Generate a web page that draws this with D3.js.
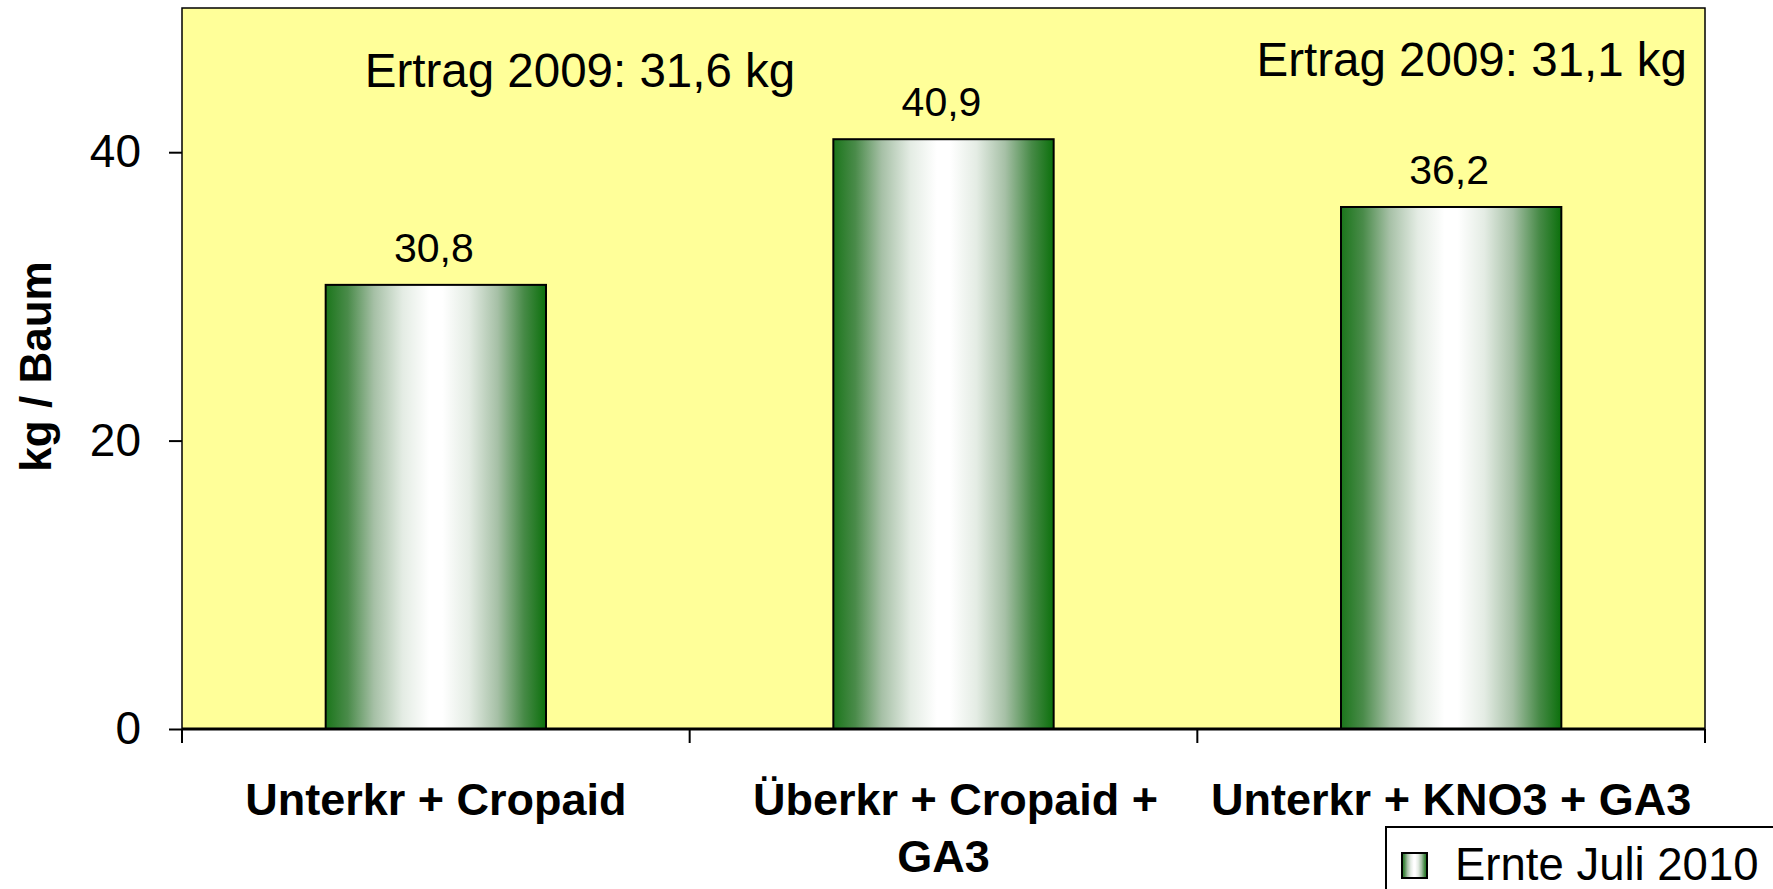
<!DOCTYPE html>
<html>
<head>
<meta charset="utf-8">
<script src="https://cdn.jsdelivr.net/npm/d3@7"></script>
<style>
  html, body { margin: 0; padding: 0; background: #fff; overflow: hidden; }
  text { font-family: Arial, "Liberation Sans", sans-serif; fill: #000; }
</style>
</head>
<body>
<div id="chart"></div>
<script>
var categories = ["Unterkr + Cropaid", "Überkr + Cropaid + GA3", "Unterkr + KNO3 + GA3"];
var values = [30.8, 40.9, 36.2];
var yTicks = [0, 20, 40];
var seriesName = "Ernte Juli 2010";
var yTitle = "kg / Baum";
var notes = ["Ertrag 2009: 31,6 kg", "Ertrag 2009: 31,1 kg"];

var WIDTH = 1773, HEIGHT = 889;
var margin = {top: 8, right: 68, bottom: 160, left: 182};
var w = WIDTH - margin.left - margin.right;
var h = HEIGHT - margin.top - margin.bottom;

var de = d3.formatLocale({decimal: ",", thousands: ".", grouping: [3], currency: ["", " €"]});
var fmt = de.format(".1f");

var svg = d3.select("#chart").append("svg")
  .attr("width", WIDTH)
  .attr("height", HEIGHT);

var defs = svg.append("defs");
var grad = defs.append("linearGradient")
  .attr("id", "barGrad")
  .attr("x1", "0%").attr("x2", "100%").attr("y1", "0%").attr("y2", "0%");
[[0, "#1b761b"], [0.1, "#4a8b4a"], [0.22, "#a6c0a6"], [0.35, "#e4ece4"], [0.47, "#ffffff"],
 [0.53, "#ffffff"], [0.65, "#e4ece4"], [0.78, "#a6c0a6"], [0.9, "#478a47"], [1, "#0c700c"]]
  .forEach(function(s) {
    grad.append("stop").attr("offset", s[0]).attr("stop-color", s[1]);
  });

var g = svg.append("g")
  .attr("transform", "translate(" + margin.left + "," + margin.top + ")");

var x = d3.scaleBand().domain(categories).range([0, w]).padding(0);
var y = d3.scaleLinear().domain([0, 50]).range([h, 0]);

// plot background
g.append("rect")
  .attr("x", 0).attr("y", 0)
  .attr("width", w).attr("height", h)
  .style("fill", "#ffff99")
  .style("stroke", "#000")
  .style("stroke-width", 1.5);

// bars
var barFrac = 0.434;
g.selectAll(".bar")
  .data(values)
  .enter().append("rect")
  .attr("class", "bar")
  .attr("x", function(d, i) { return x(categories[i]) + x.bandwidth() * (1 - barFrac) / 2; })
  .attr("width", x.bandwidth() * barFrac)
  .attr("y", function(d) { return y(d); })
  .attr("height", function(d) { return h - y(d); })
  .style("fill", "url(#barGrad)")
  .style("stroke", "#000")
  .style("stroke-width", 2);

// value labels
g.selectAll(".val")
  .data(values)
  .enter().append("text")
  .attr("class", "val")
  .attr("x", function(d, i) { return x(categories[i]) + x.bandwidth() / 2 - 2; })
  .attr("y", function(d) { return y(d) - 23; })
  .attr("text-anchor", "middle")
  .style("font-size", "41px")
  .text(function(d) { return fmt(d); });

// y axis
var yAxis = g.append("g")
  .call(d3.axisLeft(y).tickValues(yTicks).tickSize(13).tickPadding(28).tickFormat(d3.format("d")))
  .call(function(a) { a.select(".domain").remove(); });
yAxis.selectAll("line").style("stroke", "#000").style("stroke-width", 2);
yAxis.selectAll("text").style("font-size", "46px").style("font-family", "Arial, 'Liberation Sans', sans-serif");

// x axis
var bounds = categories.map(function(c) { return x(c); }).concat([w]);
var xAxis = g.append("g").attr("transform", "translate(0," + h + ")");
xAxis.append("line")
  .attr("x1", 0).attr("x2", w)
  .style("stroke", "#000").style("stroke-width", 3);
xAxis.selectAll(".xt")
  .data(bounds)
  .enter().append("line")
  .attr("x1", function(d) { return d; }).attr("x2", function(d) { return d; })
  .attr("y1", 0).attr("y2", 14)
  .style("stroke", "#000").style("stroke-width", 2);

var labels = xAxis.selectAll(".xl")
  .data(categories)
  .enter().append("text")
  .attr("class", "xl")
  .attr("text-anchor", "middle")
  .attr("y", 86)
  .style("font-size", "45px")
  .style("font-weight", "bold");

// wrap category labels like the spreadsheet does
labels.each(function(d) {
  var t = d3.select(this);
  var cx = x(d) + x.bandwidth() / 2;
  var words = d.split(" ");
  var line = [];
  var tspan = t.append("tspan").attr("x", cx).attr("dy", 0);
  words.forEach(function(wd) {
    line.push(wd);
    tspan.text(line.join(" "));
    if (tspan.node().getComputedTextLength() > x.bandwidth() - 20 && line.length > 1) {
      line.pop();
      tspan.text(line.join(" ")).attr("x", cx + 12);
      line = [wd];
      tspan = t.append("tspan").attr("x", cx).attr("dy", 57).text(wd);
    }
  });
});

// y title
svg.append("text")
  .attr("transform", "translate(51," + (margin.top + h / 2 - 2) + ") rotate(-90)")
  .attr("text-anchor", "middle")
  .style("font-size", "44px")
  .style("font-weight", "bold")
  .text(yTitle);

// notes
g.append("text")
  .attr("x", 398).attr("y", 79)
  .attr("text-anchor", "middle")
  .style("font-size", "47.5px")
  .text(notes[0]);
g.append("text")
  .attr("x", w - 18).attr("y", 68)
  .attr("text-anchor", "end")
  .style("font-size", "47.5px")
  .text(notes[1]);

// legend
var legend = svg.append("g").attr("transform", "translate(1386,827)");
legend.append("rect")
  .attr("x", 0).attr("y", 0)
  .attr("width", 420).attr("height", 100)
  .style("fill", "#fff")
  .style("stroke", "#000")
  .style("stroke-width", 2);
legend.append("rect")
  .attr("x", 16).attr("y", 26)
  .attr("width", 25).attr("height", 25)
  .style("fill", "url(#barGrad)")
  .style("stroke", "#000")
  .style("stroke-width", 2);
legend.append("text")
  .attr("x", 69).attr("y", 53)
  .style("font-size", "45.5px")
  .text(seriesName);
</script>
</body>
</html>
